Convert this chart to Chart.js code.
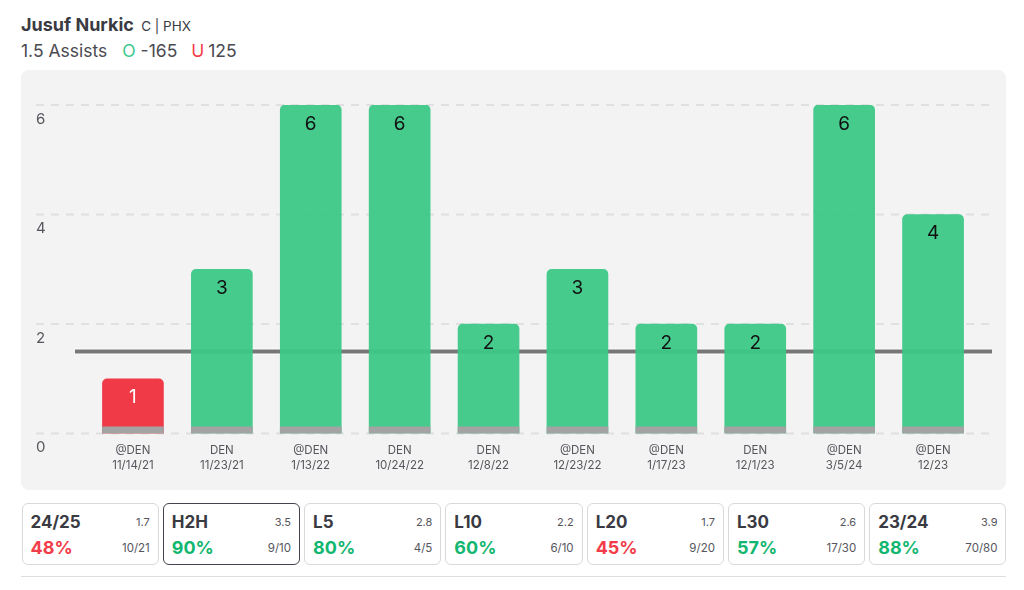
<!DOCTYPE html>
<html>
<head>
<meta charset="utf-8">
<script src="https://cdn.jsdelivr.net/npm/chart.js@4"></script>
<style>
  html, body { margin: 0; padding: 0; background: #fff; }
  body { width: 1024px; height: 590px; position: relative; overflow: hidden; font-family: Inter, sans-serif; color: #3a3a42; }
  .name { position: absolute; left: 21px; top: 13px; font-size: 18px; font-weight: 700; line-height: 24px; white-space: nowrap; }
  .name span { font-size: 13.5px; font-weight: 400; margin-left: 3px; }
  .prop { position: absolute; left: 21px; top: 39px; font-size: 17.5px; line-height: 24px; color: #4a4a50; white-space: nowrap; }
  .over { color: #3cc98e; margin-left: 15px; }
  .under { color: #f23c49; margin-left: 14px; margin-right: -1px; }
  .panel { position: absolute; left: 21px; top: 70px; width: 985px; height: 420px; background: #f3f3f3; border-radius: 8px; }
  canvas { display: block; }
  .cards { position: absolute; left: 21.5px; top: 503px; width: 985px; display: flex; gap: 4px; }
  .card { flex: 1; box-sizing: border-box; height: 62px; background: #fff; border: 1.5px solid #d9d9d9; border-radius: 6px; position: relative; }
  .card.on { border-color: #44444c; }
  .card div { position: absolute; white-space: nowrap; }
  .lbl { left: 8px; top: 6px; font-size: 17px; font-weight: 700; line-height: 24px; color: #3a3a42; }
  .pct { left: 8px; top: 32px; font-size: 18px; font-weight: 700; line-height: 24px; }
  .avg { right: 8px; top: 10px; font-size: 11px; line-height: 16px; color: #55555c; }
  .rec { right: 8px; top: 36px; font-size: 11.5px; line-height: 16px; color: #55555c; }
  .rule { position: absolute; left: 21px; top: 576px; width: 985px; height: 1px; background: #dedede; }
</style>
</head>
<body>
<div class="name">Jusuf Nurkic <span>C | PHX</span></div>
<div class="prop">1.5 Assists<span class="over">O</span> -165<span class="under">U</span> 125</div>
<div class="panel"><canvas id="assistsChart" width="985" height="420"></canvas></div>
<div class="cards" id="cards"></div>
<div class="rule"></div>

<script>
// ==============================
// DATA
// ==============================
const opponents = ['@DEN', 'DEN', '@DEN', 'DEN', 'DEN', '@DEN', '@DEN', 'DEN', '@DEN', '@DEN'];
const gameDates = ['11/14/21', '11/23/21', '1/13/22', '10/24/22', '12/8/22', '12/23/22', '1/17/23', '12/1/23', '3/5/24', '12/23'];
const assists = [1, 3, 6, 6, 2, 3, 2, 2, 6, 4];
const baseBand = [0.12, 0.12, 0.12, 0.12, 0.12, 0.12, 0.12, 0.12, 0.12, 0.12];
const propLine = 1.5;
const yTicks = [0, 2, 4, 6];

const cardLabels = ['24/25', 'H2H', 'L5', 'L10', 'L20', 'L30', '23/24'];
const cardAverages = ['1.7', '3.5', '2.8', '2.2', '1.7', '2.6', '3.9'];
const cardPercents = [48, 90, 80, 60, 45, 57, 88];
const cardRecords = ['10/21', '9/10', '4/5', '6/10', '9/20', '17/30', '70/80'];

const GREEN = 'rgba(60,200,135,0.95)';
const RED = '#f03a47';

// ==============================
// STAT CARDS
// ==============================
const cardsEl = document.getElementById('cards');
cardLabels.forEach((label, i) => {
    const card = document.createElement('div');
    card.className = 'card' + (label === 'H2H' ? ' on' : '');
    const pctColor = cardPercents[i] >= 50 ? '#12b76f' : '#f23c49';
    card.innerHTML =
        '<div class="lbl">' + label + '</div>' +
        '<div class="avg">' + cardAverages[i] + '</div>' +
        '<div class="pct" style="color:' + pctColor + '">' + cardPercents[i] + '%</div>' +
        '<div class="rec">' + cardRecords[i] + '</div>';
    cardsEl.appendChild(card);
});

// ==============================
// CHART PLUGINS
// ==============================
// dashed grid lines and the prop line run wider than the bars' area
const backdropLines = {
    id: 'backdropLines',
    beforeDatasetsDraw(chart) {
        const { ctx, scales: { y } } = chart;
        ctx.save();
        ctx.strokeStyle = '#e0e0e0';
        ctx.lineWidth = 2;
        ctx.setLineDash([8, 7]);
        yTicks.forEach(t => {
            const py = y.getPixelForValue(t);
            ctx.beginPath();
            ctx.moveTo(15, py);
            ctx.lineTo(971, py);
            ctx.stroke();
        });
        ctx.setLineDash([]);
        const py = y.getPixelForValue(propLine);
        ctx.strokeStyle = 'rgba(255,255,255,0.8)';
        ctx.lineWidth = 6;
        ctx.beginPath();
        ctx.moveTo(54, py);
        ctx.lineTo(971, py);
        ctx.stroke();
        ctx.strokeStyle = '#777';
        ctx.lineWidth = 4;
        ctx.beginPath();
        ctx.moveTo(54, py);
        ctx.lineTo(971, py);
        ctx.stroke();
        ctx.restore();
    }
};

const barValues = {
    id: 'barValues',
    afterDatasetsDraw(chart) {
        const { ctx } = chart;
        const bars = chart.getDatasetMeta(0).data;
        ctx.save();
        ctx.font = '19px Inter, sans-serif';
        ctx.textAlign = 'center';
        ctx.textBaseline = 'middle';
        bars.forEach((bar, i) => {
            ctx.fillStyle = assists[i] > propLine ? '#111' : '#fff';
            ctx.fillText(assists[i], bar.x, bar.y + 19);
        });
        ctx.restore();
    }
};

// ==============================
// ASSISTS BAR CHART
// ==============================
new Chart(document.getElementById('assistsChart').getContext('2d'), {
    type: 'bar',
    data: {
        labels: opponents.map((o, i) => [o, gameDates[i]]),
        datasets: [
            {
                data: assists,
                backgroundColor: assists.map(v => v > propLine ? GREEN : RED),
                borderRadius: { topLeft: 5, topRight: 5 },
                borderSkipped: false,
                barThickness: 61,
                order: 1
            },
            {
                data: baseBand,
                backgroundColor: '#a3a3a3',
                barThickness: 61,
                order: 0
            }
        ]
    },
    options: {
        responsive: false,
        animation: false,
        layout: { padding: { left: 15, right: 28.5, top: 35, bottom: 0 } },
        plugins: { legend: { display: false }, tooltip: { enabled: false } },
        scales: {
            x: {
                stacked: true,
                grid: { display: false },
                border: { display: false },
                ticks: { color: '#55555c', font: { family: 'Inter', size: 11.5, lineHeight: 1.25 }, maxRotation: 0, autoSkip: false, padding: 2 },
                afterFit(axis) { axis.height = 56.5; }
            },
            y: {
                min: 0,
                max: 6,
                grid: { display: false },
                border: { display: false },
                afterBuildTicks(axis) { axis.ticks = yTicks.map(value => ({ value })); },
                ticks: { color: '#55555c', font: { family: 'Inter', size: 15 }, crossAlign: 'far', labelOffset: 14, padding: 0 },
                afterFit(axis) { axis.width = 52.5; }
            }
        }
    },
    plugins: [backdropLines, barValues]
});
</script>
</body>
</html>
